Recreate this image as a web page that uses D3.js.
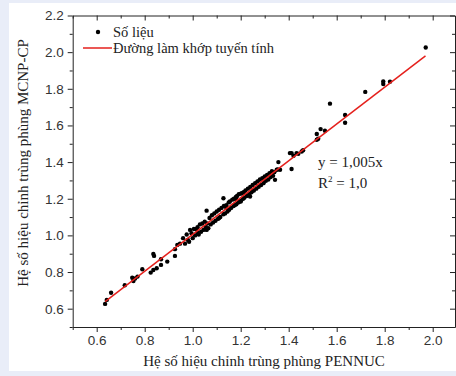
<!DOCTYPE html>
<html>
<head>
<meta charset="utf-8">
<script src="https://cdn.jsdelivr.net/npm/d3@7"></script>
<style>
  body { margin: 0; background: #e9edf8; }
  svg { display: block; }
  .tick text { font-family: "Liberation Sans", Arial, sans-serif; font-size: 13.5px; fill: #333; }
  .axis path, .axis line { stroke: #222; }
  .serif { font-family: "Liberation Serif", "Times New Roman", serif; fill: #222; }
</style>
</head>
<body>
<div id="chart"></div>
<script>
// PENNUC (x) vs MCNP-CP (y) coincidence correction factors
var pennuc = [
    0.635, 0.642, 0.660, 0.717, 0.748, 0.753, 0.760, 0.770, 0.790, 0.825,
    0.836, 0.850, 0.836, 0.839, 0.868, 0.868, 0.894, 0.926, 0.926, 0.936,
    0.947, 0.960, 0.968, 0.975, 0.985, 0.989, 0.995, 1.000, 1.005, 1.010,
    1.015, 1.020, 1.025, 1.030, 1.035, 1.040, 1.045, 1.050, 1.055, 1.058,
    1.058, 1.065, 1.070, 1.075, 1.080, 1.085, 1.090, 1.095, 1.100, 1.105,
    1.110, 1.115, 1.120, 1.128, 1.128, 1.130, 1.135, 1.140, 1.145, 1.150,
    1.152, 1.155, 1.160, 1.165, 1.170, 1.172, 1.175, 1.180, 1.182, 1.185,
    1.190, 1.192, 1.195, 1.200, 1.202, 1.205, 1.210, 1.212, 1.215, 1.220,
    1.225, 1.230, 1.235, 1.239, 1.240, 1.245, 1.250, 1.255, 1.260, 1.265,
    1.270, 1.275, 1.280, 1.285, 1.290, 1.295, 1.300, 1.305, 1.310, 1.315,
    1.320, 1.325, 1.330, 1.335, 1.343, 1.350, 1.355, 1.357, 1.364, 1.405,
    1.412, 1.412, 1.420, 1.433, 1.440, 1.454, 1.460, 1.517, 1.523, 1.533,
    1.551, 1.517, 1.572, 1.635, 1.635, 1.719, 1.794, 1.794, 1.822, 1.971,
    1.110, 1.180, 1.250, 1.020, 0.980, 1.300, 1.140, 1.200, 1.060, 1.340
];
var mcnp = [
    0.626, 0.648, 0.687, 0.728, 0.769, 0.751, 0.765, 0.775, 0.815, 0.797,
    0.811, 0.821, 0.899, 0.888, 0.870, 0.839, 0.857, 0.888, 0.925, 0.948,
    0.955, 0.985, 0.955, 1.005, 0.965, 1.030, 1.012, 0.985, 1.035, 1.000,
    1.035, 1.045, 1.005, 1.060, 1.020, 1.065, 1.030, 1.075, 1.045, 1.135,
    1.030, 1.039, 1.095, 1.060, 1.110, 1.070, 1.120, 1.080, 1.130, 1.090,
    1.140, 1.100, 1.150, 1.203, 1.115, 1.160, 1.120, 1.165, 1.130, 1.180,
    1.140, 1.185, 1.150, 1.195, 1.160, 1.200, 1.165, 1.210, 1.170, 1.215,
    1.180, 1.225, 1.185, 1.228, 1.190, 1.230, 1.200, 1.235, 1.205, 1.245,
    1.215, 1.255, 1.225, 1.212, 1.265, 1.235, 1.275, 1.245, 1.285, 1.255,
    1.295, 1.265, 1.305, 1.275, 1.312, 1.285, 1.322, 1.298, 1.330, 1.305,
    1.340, 1.318, 1.350, 1.325, 1.303, 1.358, 1.360, 1.400, 1.358, 1.449,
    1.449, 1.362, 1.435, 1.449, 1.445, 1.458, 1.465, 1.522, 1.527, 1.580,
    1.571, 1.553, 1.719, 1.657, 1.615, 1.783, 1.840, 1.826, 1.839, 2.025,
    1.095, 1.200, 1.245, 1.015, 0.975, 1.300, 1.150, 1.185, 1.065, 1.345
];

var xTicks = [0.6, 0.8, 1.0, 1.2, 1.4, 1.6, 1.8, 2.0];
var yTicks = [0.6, 0.8, 1.0, 1.2, 1.4, 1.6, 1.8, 2.0, 2.2];
var xMinor = [0.5, 0.7, 0.9, 1.1, 1.3, 1.5, 1.7, 1.9];
var yMinor = [0.5, 0.7, 0.9, 1.1, 1.3, 1.5, 1.7, 1.9, 2.1];

var fitSlope = 1.005;
var fitRange = [0.635, 1.97];

var xTitle = "Hệ số hiệu chỉnh trùng phùng PENNUC";
var yTitle = "Hệ số hiệu chỉnh trùng phùng MCNP-CP";
var legendLabels = ["Số liệu", "Đường làm khớp tuyến tính"];

var width = 456, height = 376;
var plotL = 72.7, plotR = 455, plotT = 15.5, plotB = 327;

var svg = d3.select("#chart").append("svg")
    .attr("width", width)
    .attr("height", height);

// white panel
svg.append("rect")
    .attr("x", 9).attr("y", 3)
    .attr("width", width - 9).attr("height", 368)
    .style("fill", "#fff");

var x = d3.scaleLinear().domain([0.5, 0.5 + (plotR - plotL) / 240]).range([plotL, plotR]);
var y = d3.scaleLinear().domain([0.5, 2.2]).range([plotB, plotT]);

function fmt(d) { return d3.format(".1f")(d); }

// bottom axis (outward ticks)
svg.append("g").attr("class", "axis")
    .attr("transform", "translate(0," + plotB + ")")
    .call(d3.axisBottom(x).tickValues(xTicks).tickFormat(fmt).tickSize(5).tickPadding(3).tickSizeOuter(0));
svg.append("g").attr("class", "axis")
    .attr("transform", "translate(0," + plotB + ")")
    .call(d3.axisBottom(x).tickValues(xMinor).tickFormat("").tickSize(3).tickSizeOuter(0))
    .select(".domain").remove();

// left axis (outward ticks)
svg.append("g").attr("class", "axis")
    .attr("transform", "translate(" + plotL + ",0)")
    .call(d3.axisLeft(y).tickValues(yTicks).tickFormat(fmt).tickSize(5).tickPadding(4).tickSizeOuter(0));
svg.append("g").attr("class", "axis")
    .attr("transform", "translate(" + plotL + ",0)")
    .call(d3.axisLeft(y).tickValues(yMinor).tickFormat("").tickSize(3).tickSizeOuter(0))
    .select(".domain").remove();

// top axis (inward ticks, no labels)
svg.append("g").attr("class", "axis")
    .attr("transform", "translate(0," + plotT + ")")
    .call(d3.axisTop(x).tickValues(xTicks).tickFormat("").tickSize(-5).tickSizeOuter(0));
svg.append("g").attr("class", "axis")
    .attr("transform", "translate(0," + plotT + ")")
    .call(d3.axisTop(x).tickValues(xMinor).tickFormat("").tickSize(-3).tickSizeOuter(0))
    .select(".domain").remove();

// right axis (inward ticks, no labels)
svg.append("g").attr("class", "axis")
    .attr("transform", "translate(" + plotR + ",0)")
    .call(d3.axisRight(y).tickValues(yTicks).tickFormat("").tickSize(-5).tickSizeOuter(0));
svg.append("g").attr("class", "axis")
    .attr("transform", "translate(" + plotR + ",0)")
    .call(d3.axisRight(y).tickValues(yMinor).tickFormat("").tickSize(-3).tickSizeOuter(0))
    .select(".domain").remove();

// data points
var points = d3.zip(pennuc, mcnp);
svg.append("g").selectAll("circle")
    .data(points)
  .enter().append("circle")
    .attr("cx", function(d) { return x(d[0]); })
    .attr("cy", function(d) { return y(d[1]); })
    .attr("r", 2.2)
    .style("fill", "#000");

// linear fit
svg.append("line")
    .attr("x1", x(fitRange[0])).attr("y1", y(fitSlope * fitRange[0]))
    .attr("x2", x(fitRange[1])).attr("y2", y(fitSlope * fitRange[1]))
    .style("stroke", "#e5201c")
    .style("stroke-width", 1.5);

// legend
svg.append("circle").attr("cx", 98).attr("cy", 32).attr("r", 2.2).style("fill", "#000");
svg.append("text").attr("class", "serif").attr("x", 113).attr("y", 36.5)
    .style("font-size", "14.5px").text(legendLabels[0]);
svg.append("line").attr("x1", 83).attr("x2", 112).attr("y1", 48).attr("y2", 48)
    .style("stroke", "#e5201c").style("stroke-width", 1.5);
svg.append("text").attr("class", "serif").attr("x", 113).attr("y", 52.5)
    .style("font-size", "14.5px").text(legendLabels[1]);

// equation
svg.append("text").attr("class", "serif").attr("x", 318).attr("y", 167)
    .style("font-size", "15px").text("y = 1,005x");
var r2 = svg.append("text").attr("class", "serif").attr("x", 318).attr("y", 188)
    .style("font-size", "15px");
r2.append("tspan").text("R");
r2.append("tspan").attr("dy", -6).style("font-size", "9px").text("2");
r2.append("tspan").attr("dy", 6).text(" = 1,0");

// axis titles
svg.append("text").attr("class", "serif")
    .attr("x", 264).attr("y", 366)
    .attr("text-anchor", "middle")
    .style("font-size", "15px")
    .text(xTitle);
svg.append("text").attr("class", "serif")
    .attr("transform", "translate(28,163) rotate(-90)")
    .attr("text-anchor", "middle")
    .style("font-size", "15px")
    .text(yTitle);
</script>
</body>
</html>
